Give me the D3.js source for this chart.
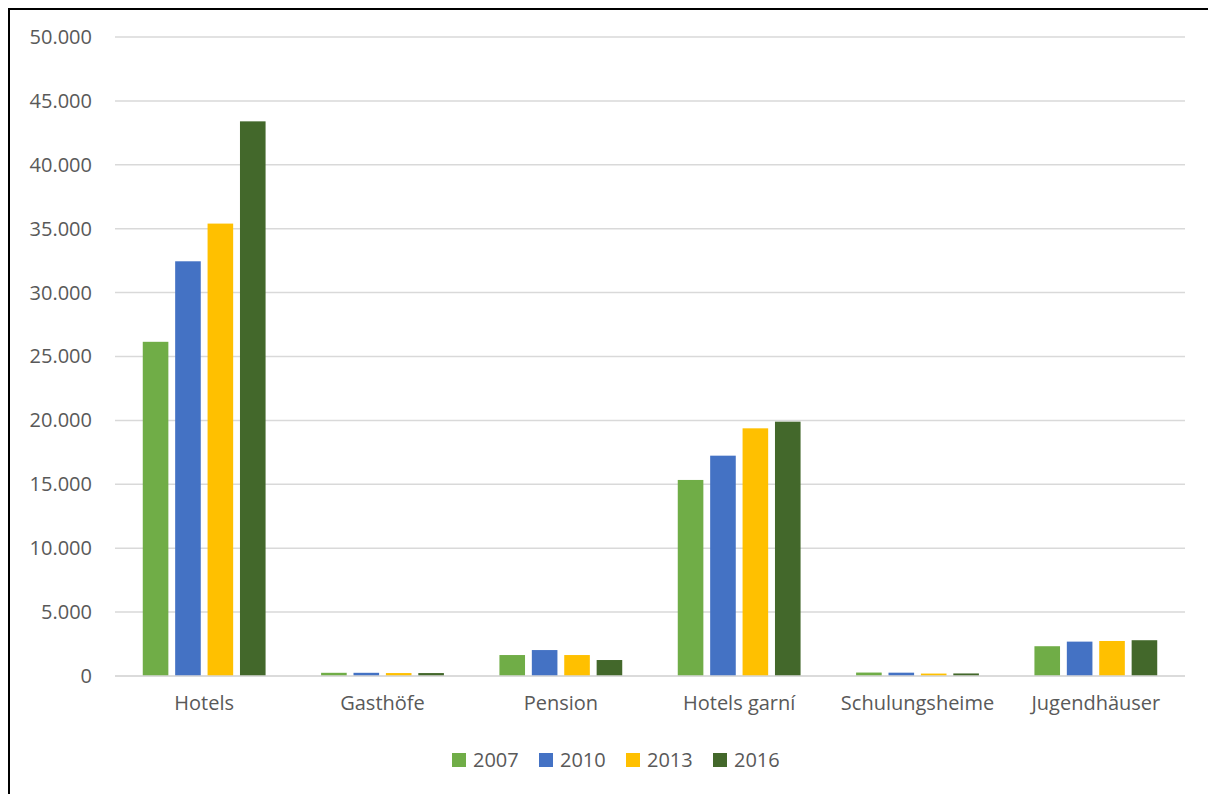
<!DOCTYPE html>
<html>
<head>
<meta charset="utf-8">
<script src="https://cdn.jsdelivr.net/npm/d3@7/dist/d3.min.js"></script>
<style>
  html, body { margin: 0; padding: 0; background: #fff; }
  svg { display: block; }
  text { font-family: "Open Sans", "Noto Sans", sans-serif; fill: #595959; }
</style>
</head>
<body>
<svg id="chart" width="1208" height="794"></svg>
<script>
// Beds by accommodation type and year
const categories = ["Hotels", "Gasthöfe", "Pension", "Hotels garní", "Schulungsheime", "Jugendhäuser"];
const years = ["2007", "2010", "2013", "2016"];
const values2007 = [26150, 250, 1640, 15340, 270, 2330];
const values2010 = [32450, 250, 2030, 17240, 260, 2690];
const values2013 = [35400, 230, 1640, 19380, 190, 2740];
const values2016 = [43400, 230, 1250, 19900, 200, 2800];
const yTicks = [0, 5000, 10000, 15000, 20000, 25000, 30000, 35000, 40000, 45000, 50000];
const colors = ["#70ad47", "#4472c4", "#ffc000", "#43682b"];

const seriesValues = [values2007, values2010, values2013, values2016];
const rows = categories.map((c, i) => ({
  category: c,
  bars: years.map((y, j) => ({ year: y, value: seriesValues[j][i] }))
}));

const svg = d3.select("#chart");

// outer frame
svg.append("rect")
  .attr("x", 9).attr("y", 9)
  .attr("width", 1220).attr("height", 810)
  .attr("fill", "none").attr("stroke", "#000").attr("stroke-width", 2);

const plot = { left: 115, right: 1185, top: 37, bottom: 676 };

const x0 = d3.scaleBand().domain(categories).range([plot.left, plot.right]).padding(0);
const pitch = x0.bandwidth() * 0.1817;
const x1 = d3.scaleBand().domain(years).range([0, pitch * 4]).paddingInner(0.21).paddingOuter(0.105);
const y = d3.scaleLinear().domain([0, 50000]).range([plot.bottom, plot.top]);
const color = d3.scaleOrdinal().domain(years).range(colors);
const fmt = d3.formatLocale({ decimal: ",", thousands: ".", grouping: [3], currency: ["", "€"] }).format(",");

// gridlines
svg.append("g")
  .selectAll("line")
  .data(yTicks)
  .join("line")
  .attr("x1", plot.left).attr("x2", plot.right)
  .attr("y1", d => y(d)).attr("y2", d => y(d))
  .attr("stroke", "#d9d9d9").attr("stroke-width", 1.5);

// y axis labels
const yAxis = svg.append("g")
  .attr("transform", `translate(${plot.left},0)`)
  .call(d3.axisLeft(y).tickValues(yTicks).tickFormat(fmt).tickSize(0).tickPadding(23));
yAxis.select(".domain").remove();
yAxis.selectAll("text").attr("font-size", 20).attr("fill", "#595959")
  .style("font-family", '"Open Sans", sans-serif');

// bars
const groups = svg.append("g")
  .selectAll("g")
  .data(rows)
  .join("g")
  .attr("transform", d => `translate(${x0(d.category) + x0.bandwidth() / 2 - pitch * 2},0)`);

groups.selectAll("rect")
  .data(d => d.bars)
  .join("rect")
  .attr("x", d => x1(d.year))
  .attr("width", x1.bandwidth())
  .attr("y", d => y(d.value))
  .attr("height", d => y(0) - y(d.value))
  .attr("fill", d => color(d.year));

// baseline
svg.append("line")
  .attr("x1", plot.left).attr("x2", plot.right)
  .attr("y1", y(0)).attr("y2", y(0))
  .attr("stroke", "#d9d9d9").attr("stroke-width", 1.5);

// category labels
const xAxis = svg.append("g")
  .attr("transform", `translate(0,${plot.bottom})`)
  .call(d3.axisBottom(x0).tickSize(0).tickPadding(20));
xAxis.select(".domain").remove();
xAxis.selectAll("text").attr("font-size", 20).attr("fill", "#595959")
  .style("font-family", '"Open Sans", sans-serif');

// legend
const legend = svg.append("g")
  .selectAll("g")
  .data(years)
  .join("g")
  .attr("transform", (d, i) => `translate(${452 + i * 87},753)`);
legend.append("rect")
  .attr("width", 14).attr("height", 14)
  .attr("fill", d => color(d));
legend.append("text")
  .attr("x", 21).attr("y", 7)
  .attr("dy", "0.35em")
  .attr("font-size", 20)
  .text(d => d);
</script>
</body>
</html>
